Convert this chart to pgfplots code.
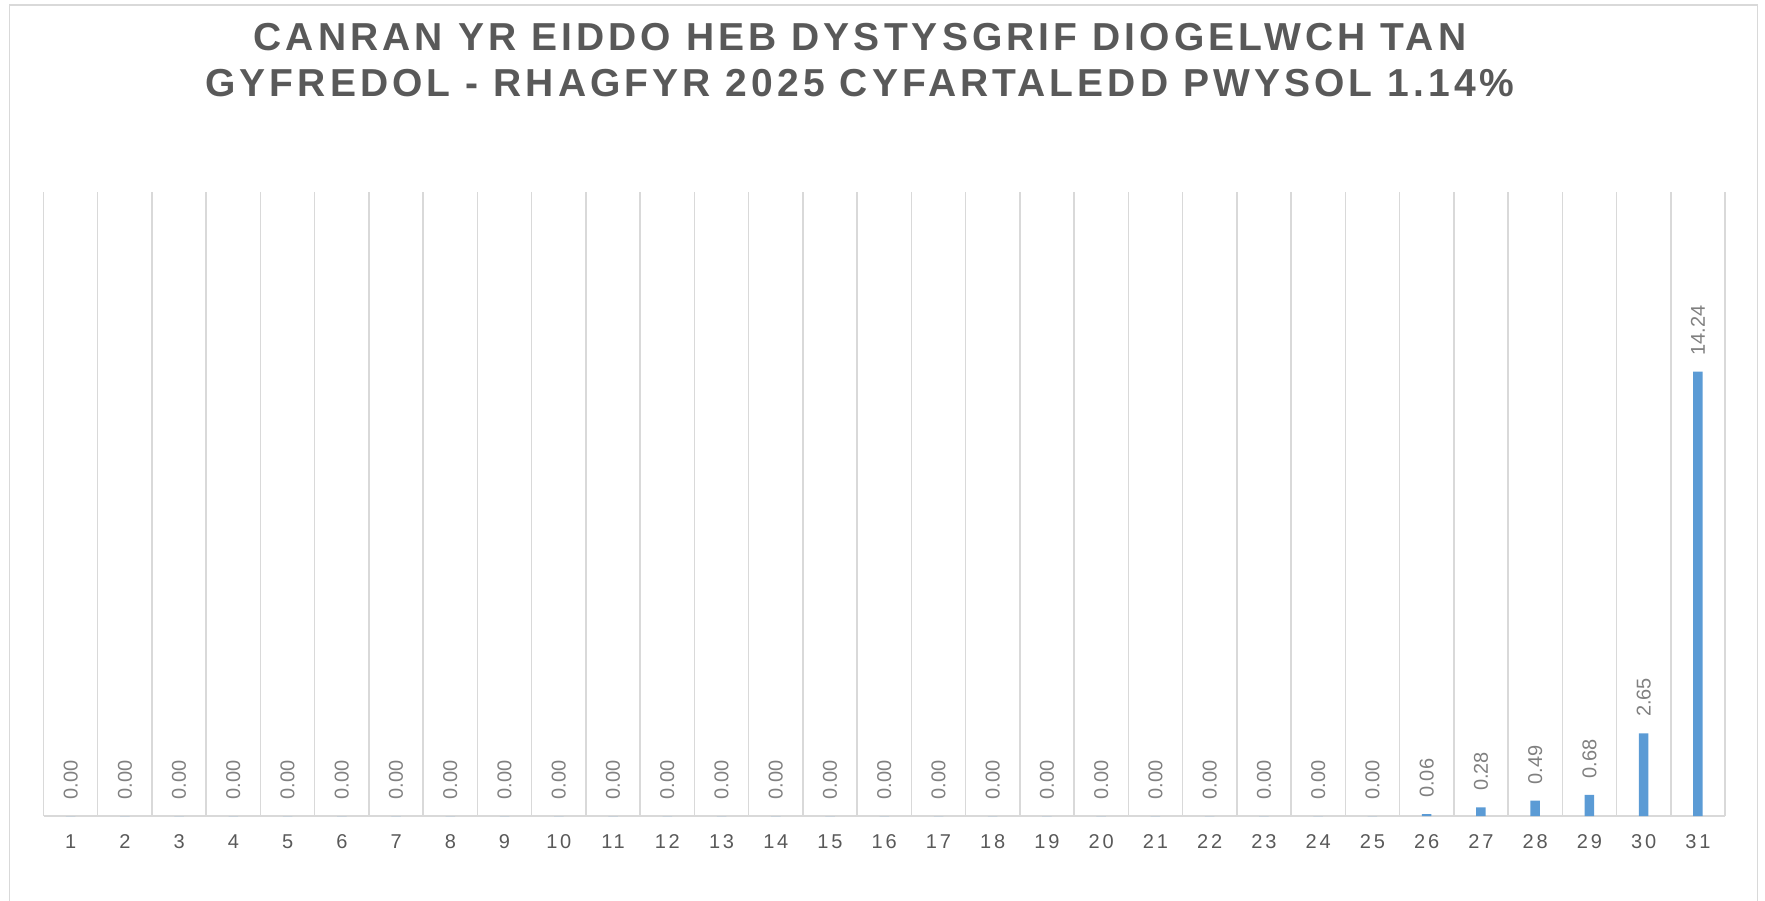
\documentclass[border=0pt]{standalone}
\usepackage{fontspec}
\setmainfont{Liberation Sans}
\newfontfamily\titlefont[LetterSpace=10.5]{Liberation Sans}
\newfontfamily\tickfont[LetterSpace=14]{Liberation Sans}
\usepackage{pgfplots}
\pgfplotsset{compat=1.18}
\definecolor{barblue}{HTML}{5B9BD5}
\definecolor{titlegray}{HTML}{595959}
\definecolor{labelgray}{HTML}{808080}
\definecolor{gridgray}{HTML}{D9D9D9}
\begin{document}
\begin{tikzpicture}
\useasboundingbox (0,0) rectangle (882.5pt,450pt);
\draw[gridgray, line width=0.8pt] (4.8pt,-1pt) -- (4.8pt,447.5pt) -- (878.8pt,447.5pt) -- (878.8pt,-1pt);
\node[anchor=base, font=\titlefont\bfseries\fontsize{19.5}{23}\selectfont, text=titlegray, inner sep=0pt] at (430pt,424.5pt) {CANRAN YR EIDDO HEB DYSTYSGRIF DIOGELWCH TAN};
\node[anchor=base, font=\titlefont\bfseries\fontsize{19.5}{23}\selectfont, text=titlegray, inner sep=0pt] at (430pt,401.5pt) {GYFREDOL - RHAGFYR 2025 CYFARTALEDD PWYSOL 1.14\%};
\begin{axis}[
  at={(21.75pt,42pt)}, anchor=south west,
  width=840.75pt, height=312pt, scale only axis,
  xmin=0.5, xmax=31.5, ymin=0, ymax=20,
  axis y line=none,
  axis x line*=bottom,
  x axis line style={gridgray, line width=1pt, -},
  xtick={1,...,31},
  minor xtick={0.5,1.5,...,31.5},
  minor x grid style={gridgray, line width=0.75pt},
  xminorgrids=true,
  major tick length=0pt, minor tick length=0pt,
  ytick=\empty,
  xticklabel style={font=\tickfont\fontsize{10}{12}\selectfont, text=titlegray, inner sep=0pt, yshift=-9pt, anchor=north},
  /pgf/number format/assume math mode=true,
  ybar, bar width=4.75pt, bar shift=0pt,
  clip=false,
  nodes near coords,
  nodes near coords style={font=\fontsize{10}{12}\selectfont, text=labelgray, rotate=90, anchor=west, inner xsep=8pt, inner ysep=0pt,
    /pgf/number format/.cd, fixed, fixed zerofill, precision=2, assume math mode=true},
]
\addplot[fill=barblue, draw=none] coordinates {
(1,0) (2,0) (3,0) (4,0) (5,0) (6,0) (7,0) (8,0) (9,0) (10,0)
(11,0) (12,0) (13,0) (14,0) (15,0) (16,0) (17,0) (18,0) (19,0) (20,0)
(21,0) (22,0) (23,0) (24,0) (25,0) (26,0.06) (27,0.28) (28,0.49) (29,0.68) (30,2.65) (31,14.24)
};
\end{axis}
\end{tikzpicture}
\end{document}
